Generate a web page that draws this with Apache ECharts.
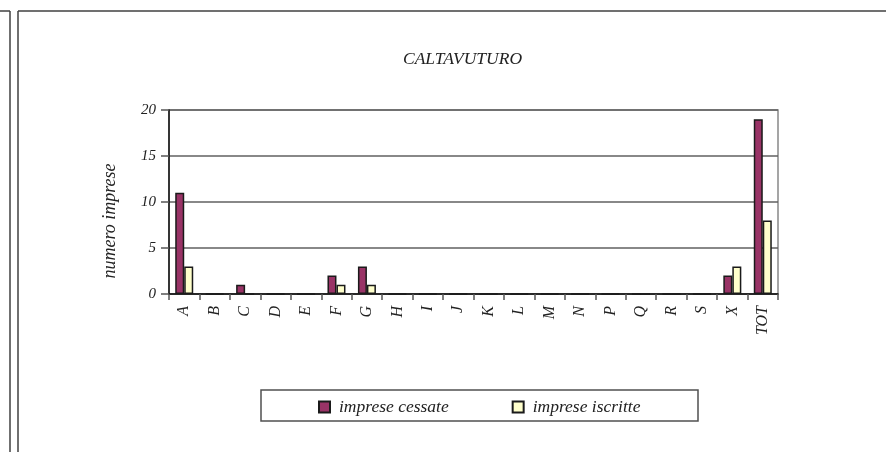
<!DOCTYPE html>
<html>
<head>
<meta charset="utf-8">
<script src="https://cdn.jsdelivr.net/npm/echarts@6/dist/echarts.min.js"></script>
<style>
  html, body { margin: 0; padding: 0; background: #fff; }
  #chart { width: 886px; height: 452px; }
</style>
</head>
<body>
<div id="chart"></div>
<script>
var categories = ['A', 'B', 'C', 'D', 'E', 'F', 'G', 'H', 'I', 'J', 'K', 'L', 'M', 'N', 'P', 'Q', 'R', 'S', 'X', 'TOT'];
var cessate = [11, 0, 1, 0, 0, 2, 3, 0, 0, 0, 0, 0, 0, 0, 0, 0, 0, 0, 2, 19];
var iscritte = [3, 0, 0, 0, 0, 1, 1, 0, 0, 0, 0, 0, 0, 0, 0, 0, 0, 0, 3, 8];
var yTicks = [0, 5, 10, 15, 20];

var serif = 'Liberation Serif';

var chart = echarts.init(document.getElementById('chart'));

/* frame lines round the chart */
var frame = [
  [0, 11, 10, 11], [10, 11, 10, 452],
  [18, 11, 886, 11], [18, 11, 18, 452]
].map(function (p) {
  return {
    type: 'line',
    shape: { x1: p[0], y1: p[1], x2: p[2], y2: p[3] },
    style: { stroke: '#404040', lineWidth: 1.5 },
    silent: true
  };
});
// legend box
frame.push({
  type: 'rect',
  shape: { x: 261, y: 390, width: 437, height: 31 },
  style: { fill: '#fff', stroke: '#505050', lineWidth: 1.5 },
  z: -1,
  silent: true
});

var option = {
  animation: false,
  backgroundColor: '#fff',
  title: {
    text: 'CALTAVUTURO',
    left: 403,
    top: 50,
    padding: 0,
    textStyle: { fontFamily: serif, fontStyle: 'italic', fontWeight: 'normal', fontSize: 17.5, color: '#222' }
  },
  legend: {
    data: ['imprese cessate', 'imprese iscritte'],
    left: 318,
    top: 398,
    padding: 0,
    icon: 'rect',
    itemWidth: 11,
    itemHeight: 11,
    itemGap: 63,
    textStyle: { fontFamily: serif, fontStyle: 'italic', fontSize: 17.5, color: '#222', padding: [0, 0, 0, 4] }
  },
  graphic: frame,
  grid: {
    left: 169,
    right: 108,
    top: 110,
    bottom: 158,
    show: true,
    borderColor: '#888',
    borderWidth: 1.5
  },
  xAxis: {
    type: 'category',
    data: categories,
    axisLine: { lineStyle: { color: '#111', width: 1.5 } },
    axisTick: { show: true, length: 6, lineStyle: { color: '#555', width: 1.5 } },
    axisLabel: {
      rotate: 90,
      margin: 12,
      interval: 0,
      fontFamily: serif,
      fontStyle: 'italic',
      fontSize: 16,
      color: '#222'
    }
  },
  yAxis: {
    type: 'value',
    min: yTicks[0],
    max: yTicks[yTicks.length - 1],
    interval: 5,
    name: 'numero imprese',
    nameLocation: 'middle',
    nameGap: 50,
    nameTextStyle: { fontFamily: serif, fontStyle: 'italic', fontSize: 18, color: '#222', padding: [0, 38, 0, 0] },
    axisLine: { show: true, lineStyle: { color: '#111', width: 1.5 } },
    axisTick: { show: true, length: 8, lineStyle: { color: '#555', width: 1.5 } },
    axisLabel: { margin: 13, fontFamily: serif, fontStyle: 'italic', fontSize: 15, color: '#222' },
    splitLine: { show: true, lineStyle: { color: '#606060', width: 1.5 } }
  },
  series: [{
    name: 'imprese cessate',
    type: 'bar',
    data: cessate,
    barWidth: 9,
    barGap: '0%',
    itemStyle: { color: '#993366', borderColor: '#1a1a1a', borderWidth: 1.5 }
  }, {
    name: 'imprese iscritte',
    type: 'bar',
    data: iscritte,
    barWidth: 9,
    itemStyle: { color: '#FFFFCC', borderColor: '#1a1a1a', borderWidth: 1.5 }
  }]
};

chart.setOption(option);
</script>
</body>
</html>
